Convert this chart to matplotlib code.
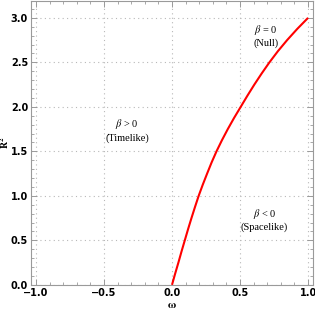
import numpy as np
import matplotlib
matplotlib.use("Agg")
import matplotlib.pyplot as plt
from matplotlib.ticker import MultipleLocator

# curve: R^2 against omega
r2 = [0.0, 0.125, 0.25, 0.375, 0.5, 0.625, 0.75, 0.875, 1.0, 1.125, 1.25, 1.375,
      1.5, 1.625, 1.75, 1.875, 2.0, 2.125, 2.25, 2.375, 2.5, 2.625, 2.75, 2.875, 3.0]
omega = [0.0, 0.023, 0.047, 0.070, 0.094, 0.118, 0.143, 0.169, 0.196, 0.226, 0.258, 0.291,
         0.327, 0.367, 0.410, 0.456, 0.505, 0.554, 0.605, 0.659, 0.716, 0.778, 0.846, 0.920, 1.0]

x_ticks = [-1.0, -0.5, 0.0, 0.5, 1.0]
y_ticks = [0.0, 0.5, 1.0, 1.5, 2.0, 2.5, 3.0]

regions = [
    (-0.33, 1.74, r"$\beta$ > 0" + "\n(Timelike)"),
    (0.69, 2.80, r"$\beta$ = 0" + "\n(Null)"),
    (0.68, 0.73, r"$\beta$ < 0" + "\n(Spacelike)"),
]

plt.rcParams["mathtext.fontset"] = "stix"

fig = plt.figure(figsize=(3.15, 3.11), dpi=100)
ax = fig.add_axes([0.098, 0.084, 0.896, 0.913])

ax.plot(omega, r2, color="red", lw=1.5, solid_capstyle="butt")

ax.set_xlim(-1.037, 1.037)
ax.set_ylim(0, 3.19)
ax.set_xticks(x_ticks)
ax.set_yticks(y_ticks)
ax.set_xticklabels([f"{v:.1f}".replace("-", "\u2212") for v in x_ticks])
ax.set_yticklabels([f"{v:.1f}" for v in y_ticks])
ax.xaxis.set_minor_locator(MultipleLocator(0.1))
ax.yaxis.set_minor_locator(MultipleLocator(0.1))

frame_col = "#9a9a9a"
for s in ax.spines.values():
    s.set_color(frame_col)
    s.set_linewidth(0.8)
ax.tick_params(which="both", direction="in", color=frame_col, top=True, right=True,
               labelsize=7, pad=2)
ax.tick_params(which="major", length=4, width=0.7)
ax.tick_params(which="minor", length=2.2, width=0.6)
for lab in ax.get_xticklabels() + ax.get_yticklabels():
    lab.set_fontweight("bold")

ax.grid(True, which="major", color="#b8b8b8", linestyle=(0, (1, 3)), linewidth=0.8)

ax.set_xlabel(r"$\mathbf{\omega}$", fontsize=8)
ax.xaxis.set_label_coords(0.5, -0.055)
ax.set_ylabel(r"$\mathbf{R^2}$", fontsize=7)
ax.yaxis.set_label_coords(-0.07, 0.5)

for x, y, t in regions:
    ax.text(x, y, t, ha="center", va="center", fontsize=7.5,
            family="Liberation Serif", linespacing=1.2)

fig.savefig("out.png", dpi=100)
